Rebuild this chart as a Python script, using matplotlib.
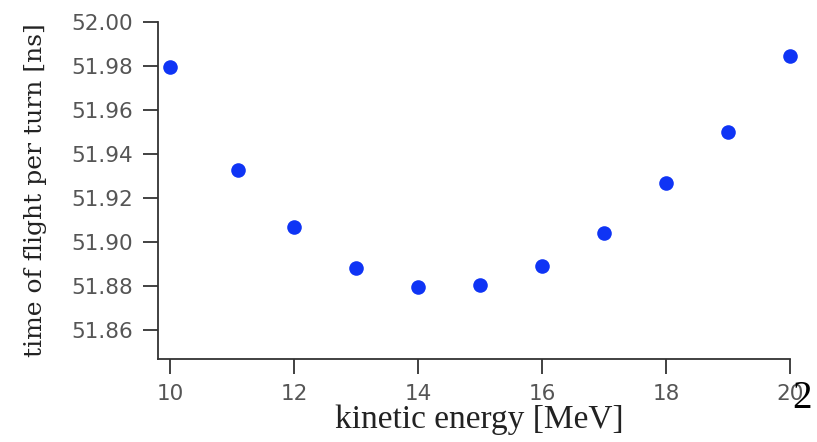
import matplotlib
matplotlib.use("Agg")
import matplotlib.pyplot as plt

# Datos
energia = [10, 11.1, 12, 13, 14, 15, 16, 17, 18, 19, 20]
tiempo = [51.9795, 51.9327, 51.9068, 51.8882, 51.8795, 51.8805,
          51.8890, 51.9040, 51.9270, 51.9500, 51.9845]
xticks = [10, 12, 14, 16, 18, 20]
yticks = [51.86, 51.88, 51.90, 51.92, 51.94, 51.96, 51.98, 52.00]

fig = plt.figure(figsize=(8.17, 4.42), dpi=100)
ax = fig.add_axes([158 / 817, 1 - 359 / 442, (790 - 158) / 817, (359 - 22) / 442])

ax.plot(energia, tiempo, 'o', color='#0f34f5', markersize=10.5, markeredgewidth=0, clip_on=False)

ax.set_xlim(9.807, 20)
ax.set_ylim(51.8468, 52.00)
ax.set_xticks(xticks)
ax.set_xticklabels([str(t) for t in xticks])
ax.set_yticks(yticks)
ax.set_yticklabels([f"{t:.2f}" for t in yticks])

for s in ['top', 'right']:
    ax.spines[s].set_visible(False)
for s in ['left', 'bottom']:
    ax.spines[s].set_color('#333333')
    ax.spines[s].set_linewidth(1.3)

ax.tick_params(axis='both', direction='out', length=11, width=1.3, color='#333333',
               labelsize=15.5, labelcolor='#555555')
ax.tick_params(axis='y', pad=7)
ax.tick_params(axis='x', pad=7)

# Etiquetas de los ejes
fig.text(36 / 817, 1 - 190 / 442, 'time of flight per turn [ns]', rotation=90,
         ha='center', va='center', fontsize=18, family='DejaVu Serif', color='#222222')
fig.text(479 / 817, 1 - 420 / 442, 'kinetic energy [MeV]', ha='center', va='center',
         fontsize=24, family='Liberation Serif', color='#222222')
fig.text(802 / 817, 1 - 399 / 442, '2', ha='center', va='center',
         fontsize=28, family='Liberation Serif', color='black')

fig.savefig('out.png', dpi=100)
